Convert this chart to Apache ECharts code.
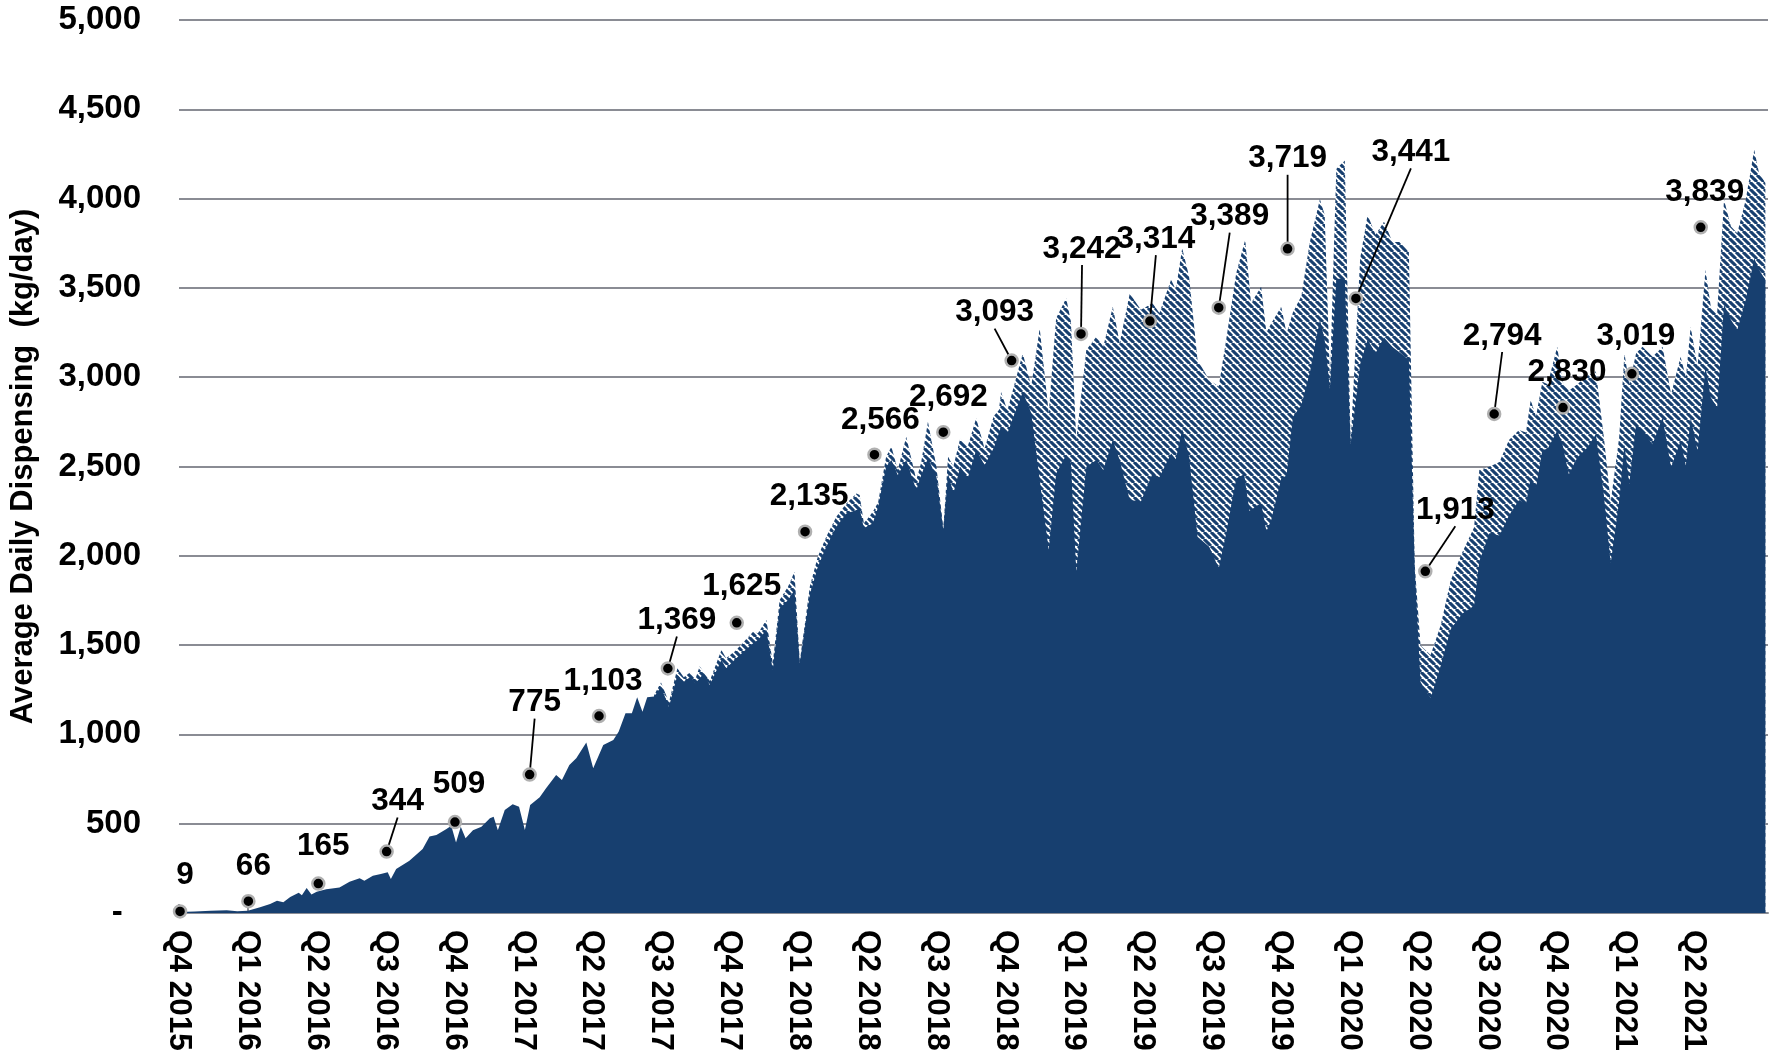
<!DOCTYPE html>
<html>
<head>
<meta charset="utf-8">
<script src="https://cdn.jsdelivr.net/npm/echarts@6/dist/echarts.min.js"></script>
<style>
  html, body { margin: 0; padding: 0; background: #fff; }
  #chart { width: 1774px; height: 1061px; }
</style>
</head>
<body>
<div id="chart"></div>
<script>
// ---- DATA (x in weeks from start of Q4 2015; 13 weeks per quarter) ----
const quarterLabels = ['Q4 2015','Q1 2016','Q2 2016','Q3 2016','Q4 2016','Q1 2017','Q2 2017','Q3 2017',
  'Q4 2017','Q1 2018','Q2 2018','Q3 2018','Q4 2018','Q1 2019','Q2 2019','Q3 2019','Q4 2019',
  'Q1 2020','Q2 2020','Q3 2020','Q4 2020','Q1 2021','Q2 2021'];

const quarterWeeks = [0.2,13.1,26.3,39.2,52.1,66.2,79.3,92.3,105.3,118.2,131.3,144.3,157.2,170.3,
  183.3,196.3,209.3,222.2,235.3,248.3,261.3,274.3,287.3];
const quarterValues = [9,66,165,344,509,775,1103,1369,1625,2135,2566,2692,3093,3242,3314,3389,3719,
  3441,1913,2794,2830,3019,3839];

// navy area (lower series)
const baseSeries = [[0,5],[3,8],[6,12],[9,15],[11,10],[13,13],[15.3,32],[17.2,50],[18.5,69],[19.7,60],
  [21,90],[22.6,114],[23.2,100],[24.1,140],[25,104],[26,119],[27.8,133],[30.3,143],[32.2,175],[34.1,195],
  [35,181],[36.6,209],[38.1,218],[39.4,228],[40,190],[41,246],[43.5,293],[46,358],[47.3,429],[48.6,437],
  [50.5,470],[51.4,489],[52.3,395],[53.2,483],[54.1,419],[55.5,463],[57.1,483],[58.7,530],[59.4,539],
  [60.2,463],[61.5,577],[63,609],[64.2,595],[65.3,465],[66.3,605],[68.1,648],[69.3,698],[71.2,773],
  [72.3,745],[73.7,829],[75,866],[76.9,954],[78.2,810],[80.1,941],[82,969],[83,1015],[84.3,1118],
  [85.5,1118],[86.5,1208],[87.5,1127],[88.4,1208],[89.7,1212],[91,1267],[92.5,1155],[94.1,1333],
  [95.3,1295],[96.6,1323],[97.5,1286],[99.1,1342],[100.2,1277],[102.4,1417],[103.3,1370],[105.2,1426],
  [108.4,1510],[109.3,1529],[110.9,1585],[112.1,1361],[113.4,1706],[115,1753],[116.2,1809],[117.2,1398],
  [119.1,1782],[120.6,1939],[122.2,2051],[124.1,2163],[126,2237],[127.9,2256],[128.5,2265],[129.3,2154],
  [131,2182],[132,2275],[133.5,2499],[134.5,2536],[135.7,2452],[137.3,2536],[139.2,2369],[140.1,2450],
  [141.4,2546],[143,2443],[144.3,2145],[145.2,2461],[146.2,2350],[147.5,2499],[148.9,2434],[150.5,2593],
  [152.1,2508],[153.8,2602],[155.2,2723],[156.4,2686],[159.3,2919],[160.9,2800],[162.5,2425],[164.2,2033],
  [165.6,2461],[167.5,2565],[168.4,2517],[169.4,1911],[171.3,2499],[173.2,2536],[174.5,2480],[176.3,2649],
  [177.6,2536],[179.5,2313],[181.6,2304],[183.8,2461],[185.1,2440],[187.3,2573],[188.2,2540],[189.4,2709],
  [190.7,2557],[192.3,2107],[194.5,2051],[196.3,1930],[197.7,2126],[199.6,2433],[201.1,2456],[202.1,2251],
  [204.3,2297],[205.3,2137],[206.2,2200],[208.1,2433],[209.1,2450],[210.3,2777],[211.9,2844],[213.5,3027],
  [215.4,3323],[216.3,3210],[217.3,2935],[218.5,3551],[220.1,3551],[221.2,2625],[223,3074],[224.4,3210],
  [225.9,3136],[227.5,3222],[229.1,3169],[230.6,3136],[232.2,3097],[233.3,1932],[234.4,1293],[236.3,1202],
  [238.2,1384],[240.1,1590],[242.3,1677],[244.5,1720],[245.5,1970],[247.4,2126],[249.3,2114],[251.1,2226],
  [253,2313],[254.3,2290],[255.2,2439],[256.2,2383],[257.4,2593],[258.4,2600],[260.2,2700],[261.2,2625],
  [262.4,2457],[264,2551],[265.9,2607],[267.5,2681],[269,2345],[270.3,1958],[271.9,2308],[272.9,2625],
  [273.8,2402],[275.1,2737],[276.3,2700],[278.2,2625],[280.1,2775],[281.7,2495],[283.5,2644],[284.5,2504],
  [285.4,2775],[286.7,2588],[288.2,3059],[289.2,2887],[290.4,2831],[291.7,3405],[293,3321],[294.2,3265],
  [295.8,3433],[297.4,3666],[298.3,3601],[299.5,3545]];

// hatched area (upper total)
const totalSeries = [[89.7,1220],[91,1290],[92.5,1180],[94.1,1370],[95.3,1320],[96.6,1350],[97.5,1310],
  [98.3,1381],[100.2,1299],[102.4,1473],[103.3,1426],[105.2,1473],[108.4,1575],[109.3,1566],[110.9,1641],
  [112.1,1398],[113.4,1753],[115,1828],[116.2,1911],[117.2,1407],[119.1,1828],[120.6,1995],[122.2,2107],
  [124.1,2219],[126,2293],[127.9,2349],[128.5,2340],[129.3,2182],[131,2246],[132,2300],[133.5,2555],
  [134.5,2611],[135.7,2480],[137.3,2667],[139.2,2425],[140.1,2520],[141.4,2751],[143,2499],[144.3,2154],
  [145.2,2555],[146.2,2500],[147.5,2658],[148.9,2611],[150.5,2770],[152.1,2600],[153.8,2782],[154.8,2817],
  [155.2,2917],[156.4,2814],[159.3,3134],[160.9,2950],[162.5,3274],[164.2,2800],[165.6,3330],[167.5,3442],
  [168.4,3311],[169.4,2650],[171.3,3152],[173.2,3227],[174.5,3171],[176.3,3395],[177.6,3190],[179.5,3468],
  [181.6,3377],[183.8,3414],[185.1,3360],[187.3,3545],[188.2,3490],[189.4,3722],[190.7,3564],[192.3,3097],
  [194.5,2985],[196.3,2948],[197.7,3208],[199.6,3582],[201.3,3770],[202.4,3414],[204.3,3506],[205.3,3250],
  [206.2,3300],[208.1,3395],[209.1,3246],[210.3,3362],[211.9,3455],[213.5,3757],[215.4,3996],[216.3,3910],
  [217.3,2990],[218.5,4167],[220.1,4213],[221.2,2640],[223,3663],[224.4,3910],[225.9,3797],[227.5,3870],
  [229.1,3757],[230.6,3757],[232.2,3700],[233.3,1950],[234.4,1498],[236.3,1445],[238.2,1610],[240.1,1863],
  [242.3,2020],[244.5,2158],[245.5,2480],[247.4,2499],[249.3,2525],[251.1,2648],[253,2704],[254.3,2690],
  [255.2,2872],[256.2,2780],[257.4,2975],[258.4,2960],[260.2,3171],[261.2,2975],[262.4,2924],[264,2961],
  [265.9,3008],[267.5,3033],[269,2667],[270.3,2300],[271.9,2663],[272.9,3134],[273.8,2961],[275.1,3134],
  [276.3,3171],[278.2,3115],[280.1,3171],[281.7,2905],[283.5,3115],[284.5,3000],[285.4,3283],[286.7,3059],
  [288.2,3601],[289.2,3395],[290.4,3358],[291.7,3993],[293,3844],[294.2,3806],[295.8,3993],[297.4,4273],
  [298.3,4144],[299.5,4088]];

// ---- LAYOUT / STYLE ----
const NAVY = '#173f6f';
const FONT = '"Liberation Sans", Arial, sans-serif';
// label centre offsets (px) relative to each quarterly dot, and whether a leader line is drawn
const labelOffsets = [[5,-36],[5,-35],[5,-37],[11,-50],[4,-38],[5,-72],[4,-35],[9,-48],[5,-36],[4,-35],
  [6,-34],[5,-35],[-17,-48],[1,-85],[6,-82],[11,-91],[0,-90],[55,-146],[30,-61],[8,-78],[4,-35],[4,-37],[4,-35]];
const leader = [0,0,0,1,0,1,0,1,0,0,0,0,1,1,1,1,1,1,1,1,0,0,0];

function makeHatch() {
  const s = 7;
  const c = document.createElement('canvas');
  c.width = s; c.height = s;
  const ctx = c.getContext('2d');
  ctx.fillStyle = '#ffffff';
  ctx.fillRect(0, 0, s, s);
  ctx.strokeStyle = NAVY;
  ctx.lineWidth = 3.1;
  [-s, 0, s].forEach(o => {
    ctx.beginPath(); ctx.moveTo(o, 0); ctx.lineTo(o + s, s); ctx.stroke();
  });
  return c;
}

const chart = echarts.init(document.getElementById('chart'));

const dots = quarterValues.map((v, i) => ({
  value: [quarterWeeks[i], v],
  labelLine: { show: !!leader[i], lineStyle: { color: '#000', width: 1.8, opacity: 1 } }
}));

chart.setOption({
  animation: false,
  backgroundColor: '#ffffff',
  grid: { left: 179, right: 6, top: 20, bottom: 148 },
  xAxis: {
    type: 'value', min: 0, max: 300, interval: 13,
    axisLine: { show: true, lineStyle: { color: '#8a8c94', width: 2 } },
    axisTick: { show: true, inside: true, length: 9, lineStyle: { color: '#8a8c94', width: 2 } },
    splitLine: { show: false },
    axisLabel: {
      rotate: -90, margin: 17, fontFamily: FONT, fontWeight: 'bold', fontSize: 31.5, color: '#000',
      showMaxLabel: false,
      formatter: v => quarterLabels[Math.round(v / 13)] || ''
    }
  },
  yAxis: {
    type: 'value', min: 0, max: 5000, interval: 500,
    name: 'Average Daily Dispensing  (kg/day)', nameLocation: 'middle', nameGap: 140, nameRotate: 90,
    nameTextStyle: { fontFamily: FONT, fontWeight: 'bold', fontSize: 31, color: '#000' },
    axisLine: { show: false }, axisTick: { show: false },
    splitLine: { lineStyle: { color: '#8a8c94', width: 2 } },
    axisLabel: {
      margin: 38, fontFamily: FONT, fontWeight: 'bold', fontSize: 33, color: '#000',
      formatter: v => v === 0 ? '-  ' : v.toLocaleString('en-US')
    }
  },
  series: [
    {
      name: 'Total', type: 'line', data: totalSeries, showSymbol: false, smooth: false,
      lineStyle: { width: 0 }, areaStyle: { color: { image: makeHatch(), repeat: 'repeat' }, opacity: 1 },
      z: 2
    },
    {
      name: 'Base', type: 'line', data: baseSeries, showSymbol: false, smooth: false,
      lineStyle: { width: 0 }, areaStyle: { color: NAVY, opacity: 1 },
      z: 3
    },
    {
      name: 'Quarterly', type: 'scatter', data: dots, z: 10,
      symbolSize: 12,
      itemStyle: { color: '#000', borderColor: '#b0b0b0', borderWidth: 2.5, opacity: 1 },
      label: {
        show: true, position: 'inside', color: '#000', fontFamily: FONT, fontWeight: 'bold', fontSize: 31.5,
        padding: [11, 4, 11, 4],
        formatter: p => p.value[1].toLocaleString('en-US')
      },
      labelLayout: p => ({ dx: labelOffsets[p.dataIndex][0], dy: labelOffsets[p.dataIndex][1] })
    }
  ]
});
</script>
</body>
</html>
